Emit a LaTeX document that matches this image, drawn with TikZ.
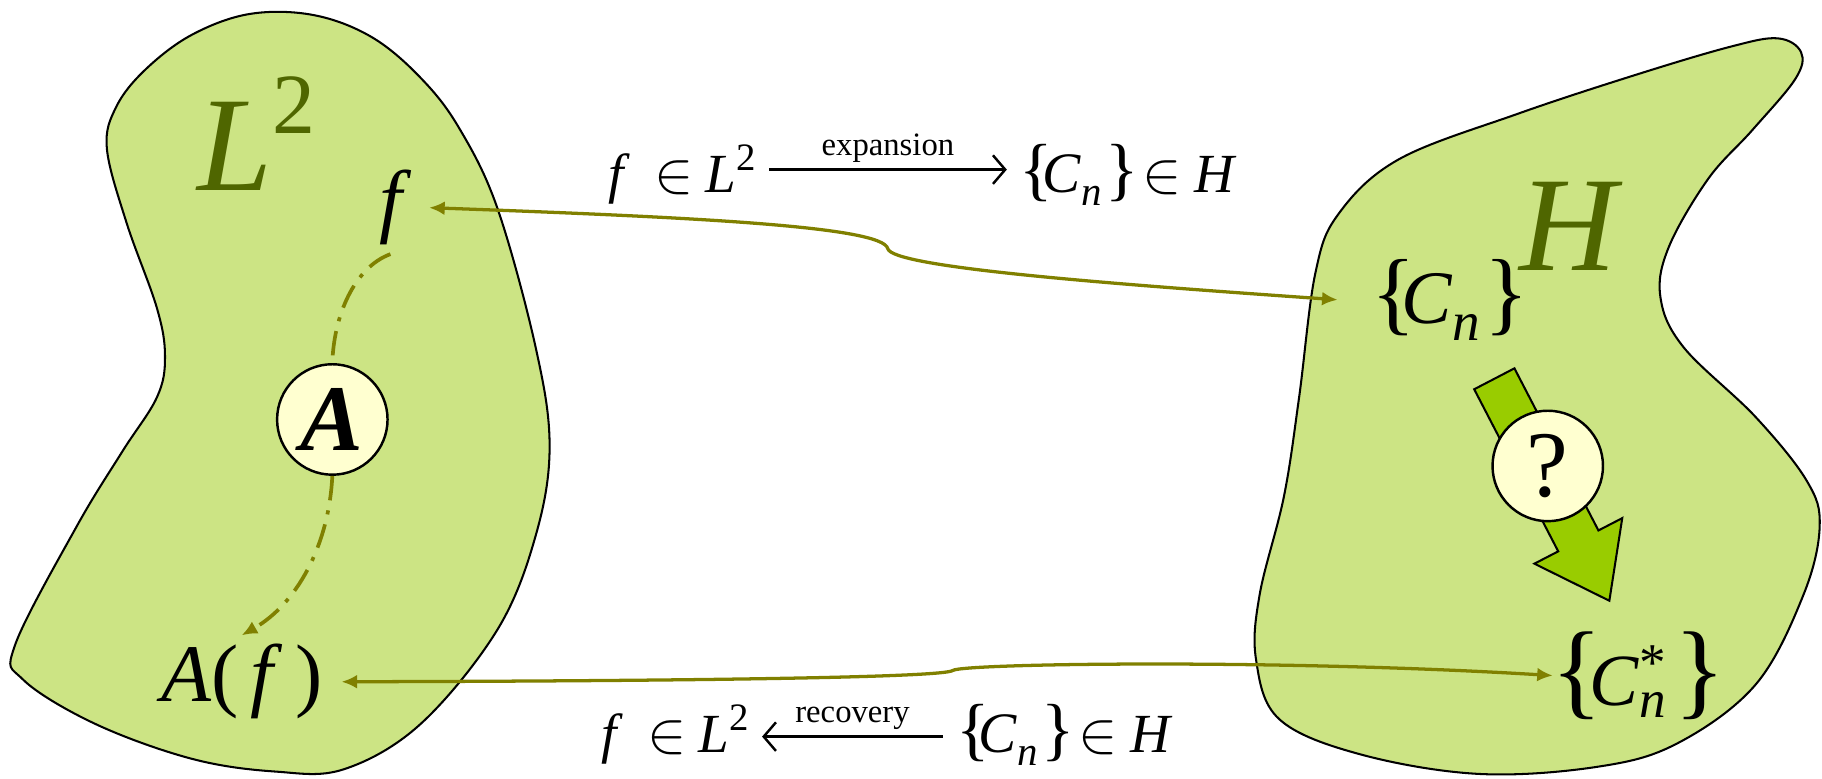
\documentclass[tikz,border=0pt]{standalone}
\usepackage{fontspec}
\setmainfont{Liberation Serif}
\usetikzlibrary{arrows.meta}

\definecolor{regionfill}{RGB}{204,228,132}
\definecolor{spacegreen}{RGB}{79,102,0}
\definecolor{linkolive}{RGB}{128,128,0}
\definecolor{mapgreen}{RGB}{153,204,0}
\definecolor{opfill}{RGB}{255,255,208}

% coefficient set {C_n}: brace size, C size, n size, drop of n
\newcommand{\coefset}[4]{{\fontsize{#1}{#1}\selectfont\{\kern-.15em}{\fontsize{#2}{#2}\selectfont\textit{C}}\raisebox{-#4pt}{\fontsize{#3}{#3}\selectfont\textit{n}}{\fontsize{#1}{#1}\selectfont\kern.05em\}}}
\newcommand{\coefstar}{{\fontsize{26}{26}\selectfont\{\kern-.12em}{\fontsize{18}{18}\selectfont\textit{C}}\rlap{\raisebox{6pt}{\fontsize{13}{13}\selectfont *}}\raisebox{-3pt}{\fontsize{13}{13}\selectfont\textit{n}}\kern2pt{\fontsize{26}{26}\selectfont\}}}

\begin{document}
\begin{tikzpicture}[
  x=0.01cm, y=-0.01cm,
  region/.style={draw=black,line width=0.5pt,fill=regionfill},
  spacename/.style={anchor=base,text=spacegreen,font=\fontsize{33}{33}\selectfont\itshape},
  elem/.style={anchor=base,inner sep=2pt,font=\fontsize{20}{20}\selectfont},
  opcirc/.style={draw,circle,minimum size=0.95cm,inner sep=0pt,fill=opfill,line width=0.6pt,font=\fontsize{23}{23}\selectfont},
  conn/.style={linkolive,line width=0.8pt,{Latex[length=3.8pt,width=3.4pt]}-{Latex[length=3.8pt,width=3.4pt]}},
  opflow/.style={linkolive,line width=0.9pt,dash pattern=on 6pt off 2.5pt on 1pt off 2.5pt},
  formula/.style={anchor=base,inner sep=3pt,font=\fontsize{13.5}{16}\selectfont},
  maparrow/.style={line width=0.6pt,-{Straight Barb[length=3pt,width=7pt]}},
  small/.style={font=\fontsize{8}{9}\selectfont,inner sep=1.5pt}
]
  \useasboundingbox (0,0) rectangle (1568,670);

  % the two spaces
  \draw[region] plot[smooth cycle,tension=0.6] coordinates {
    (215,12) (270,13) (320,32) (362,67) (395,110) (428,179) (461,299) (473,384)
    (461,461) (428,542) (362,623) (296,662) (237,664) (165,653) (82,623)
    (20,585) (13,555) (66,453) (105,389) (135,342) (142,307) (135,265)
    (109,192) (92,128) (100,92) (125,60) (165,30)};
  \draw[region] plot[smooth cycle,tension=0.6] coordinates {
    (1490,40) (1530,33) (1550,45) (1545,68) (1508,112) (1470,154) (1436,213) (1429,256)
    (1449,299) (1511,359) (1555,414) (1566,453) (1552,512) (1511,589)
    (1443,640) (1374,660) (1272,666) (1170,649) (1101,619) (1081,568)
    (1084,512) (1105,427) (1118,342) (1132,235) (1152,184) (1204,137)
    (1306,98) (1409,64)};

  \node[spacename] (L2) at (221,164) {L\raisebox{14pt}{\fontsize{21}{21}\selectfont\upshape 2}};
  \node[spacename] (H) at (1350,233) {H};

  % elements
  \node[elem] (f) at (336,196) {\itshape f};
  \node[elem] (Af) at (208,604) {\textit{A}(\kern3pt\textit{f}\kern3pt)};
  \node[elem] (cn) at (1248,278) {\coefset{22.6}{18.5}{13.5}{4.3}};
  \node[elem] (cs) at (1410,607) {\coefstar};

  % the operator A
  \draw[opflow] (f.south) .. controls (305,230) and (287,272) .. (286,313);
  \node[opcirc] (opA) at (286,361) {\bfseries\itshape A};
  \draw[opflow,-{Latex[length=3.8pt,width=3.4pt]}] (opA.south) .. controls (283,470) and (255,520) .. (Af.north);

  % the unknown map
  \draw[fill=mapgreen,line width=0.5pt] (1268.7,335) -- (1303.3,317) -- (1375.6,456.5)
    -- (1396.1,445.9) -- (1385,517) -- (1320.5,485.1) -- (1341,474.5) -- cycle;
  \node[opcirc] (opQ) at (1332,401) {?};

  % links between the spaces
  \draw[conn] ([xshift=4.5pt]f.east) .. controls (600,187) and (760,195) .. (764,214)
    .. controls (768,230) and (950,244) .. ([xshift=-6pt]cn.west);
  \draw[conn] ([xshift=2.5pt]Af.east) .. controls (600,586) and (812,583) .. (820,577)
    .. controls (828,571) and (1100,567) .. ([xshift=2.5pt]cs.west);

  % expansion and recovery
  \node[formula] (expL) at (587,166) {\textit{f}\hspace{6pt}$\in$\hspace{3pt}\textit{L}\raisebox{5.5pt}{\fontsize{9.5}{10}\selectfont 2}};
  \node[formula] (expR) at (971,166) {\coefset{17}{14}{10}{3}\hspace{1pt}$\in$\hspace{3pt}\textit{H}};
  \draw[maparrow] ([yshift=5.7pt]expL.base east) -- ([yshift=5.7pt]expR.base west)
    node[midway,above,small] {expansion};
  \node[formula] (recL) at (581,648) {\textit{f}\hspace{6pt}$\in$\hspace{3pt}\textit{L}\raisebox{5.5pt}{\fontsize{9.5}{10}\selectfont 2}};
  \node[formula] (recR) at (916,648) {\coefset{17}{14}{10}{3}\hspace{1pt}$\in$\hspace{3pt}\textit{H}};
  \draw[maparrow] ([yshift=4pt]recR.base west) -- ([yshift=4pt]recL.base east)
    node[midway,above,small] {recovery};
\end{tikzpicture}
\end{document}
